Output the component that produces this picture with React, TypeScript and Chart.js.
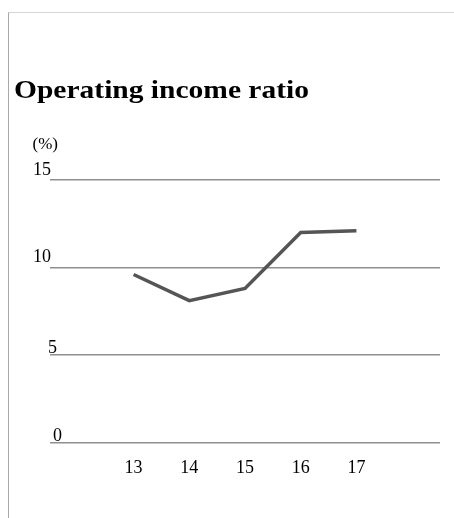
import React, { useEffect, useRef } from "react";
import { Chart, registerables } from "chart.js";

Chart.register(...registerables);

const TITLE = "Operating income ratio";
const UNIT_LABEL = "(%)";
const CATEGORIES = ["", "13", "14", "15", "16", "17", ""];
const RATIO_VALUES: (number | null)[] = [null, 9.6, 8.1, 8.8, 12.0, 12.1, null];
const Y_TICKS = [0, 5, 10, 15];

const SERIF = '"Liberation Serif", "Times New Roman", serif';

const labelsPlugin = {
  id: "customLabels",
  afterDraw(chart: any) {
    const ctx = chart.ctx as CanvasRenderingContext2D;
    const y = chart.scales.y;
    const left = chart.chartArea.left;
    ctx.save();
    ctx.fillStyle = "#000";
    ctx.textBaseline = "alphabetic";
    ctx.textAlign = "left";
    ctx.font = `18px ${SERIF}`;
    const offs: Record<number, [number, number]> = {
      15: [-17, -5],
      10: [-17, -5],
      5: [-2, -2],
      0: [3, -1],
    };
    Y_TICKS.forEach((v) => {
      const [dx, dy] = offs[v] || [0, 0];
      ctx.fillText(String(v), left + dx, y.getPixelForValue(v) + dy);
    });
    ctx.font = `17px ${SERIF}`;
    ctx.fillText(UNIT_LABEL, left - 17.5, y.getPixelForValue(15) - 31);

    ctx.font = `bold 26px ${SERIF}`;
    const w = ctx.measureText(TITLE).width;
    const sx = 295 / w;
    ctx.translate(5, 85);
    ctx.scale(sx, 1);
    ctx.fillText(TITLE, 0, 0);
    ctx.restore();
  },
};

export default function App() {
  const ref = useRef<HTMLCanvasElement | null>(null);
  useEffect(() => {
    if (!ref.current) return;
    const chart = new Chart(ref.current, {
      type: "line",
      data: {
        labels: CATEGORIES,
        datasets: [
          {
            data: RATIO_VALUES,
            borderColor: "#555555",
            borderWidth: 3.5,
            pointRadius: 0,
            tension: 0,
            fill: false,
          },
        ],
      },
      options: {
        animation: false,
        responsive: false,
        layout: { padding: { left: 41, right: 14, top: 167, bottom: 24 } },
        plugins: { legend: { display: false }, title: { display: false }, tooltip: { enabled: false } },
        scales: {
          x: {
            offset: true,
            grid: { display: false, drawTicks: false },
            border: { display: false },
            ticks: { color: "#000", font: { family: SERIF, size: 18 }, padding: 15, autoSkip: false, maxRotation: 0 },
          },
          y: {
            min: 0,
            max: 15,
            ticks: { display: false, stepSize: 5 },
            grid: { color: "#8f8f8f", lineWidth: 1.5, drawTicks: false },
            border: { display: false },
          },
        },
      },
      plugins: [labelsPlugin],
    });
    return () => chart.destroy();
  }, []);
  return (
    <div
      style={{
        position: "absolute",
        left: 8,
        top: 12,
        width: 446,
        height: 506,
        boxSizing: "border-box",
        borderTop: "1px solid #d6d6d6",
        borderLeft: "1px solid #a8a8a8",
        background: "#fff",
      }}
    >
      <canvas ref={ref} width={445} height={505} style={{ display: "block", width: 445, height: 505 }} />
    </div>
  );
}
